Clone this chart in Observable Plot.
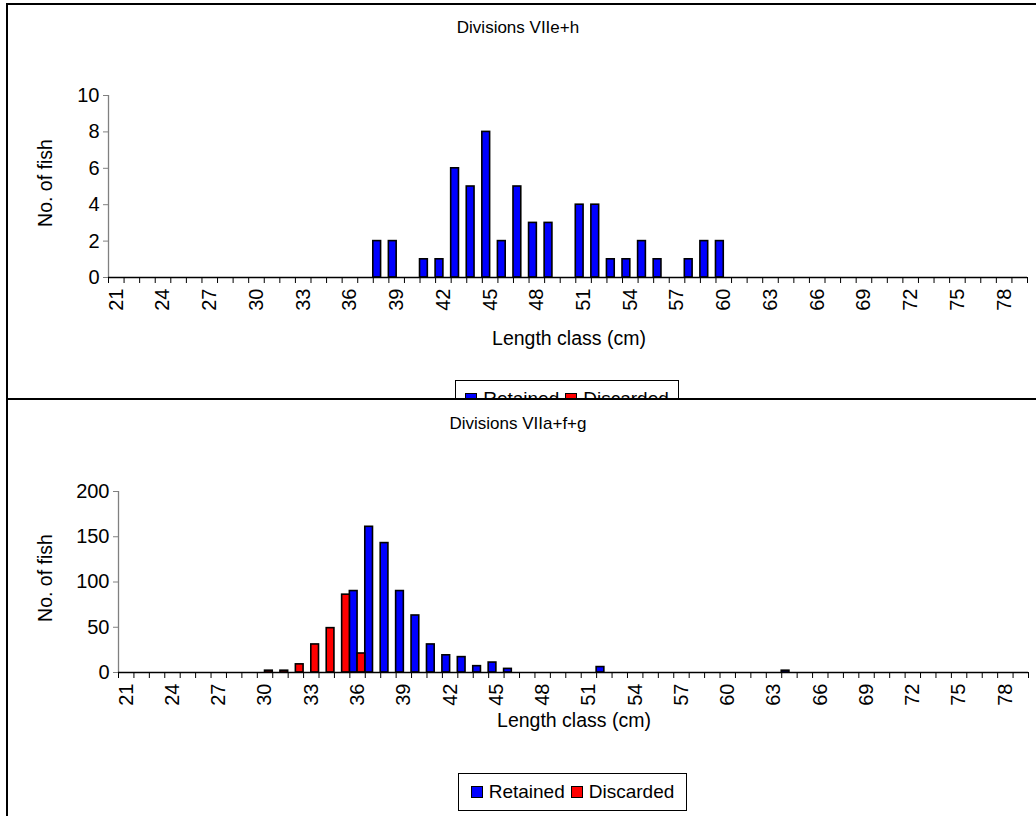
<!DOCTYPE html>
<html>
<head>
<meta charset="utf-8">
<script src="https://cdn.jsdelivr.net/npm/d3@7"></script>
<script src="https://cdn.jsdelivr.net/npm/@observablehq/plot@0.6"></script>
<style>
  html, body { margin: 0; padding: 0; background: #fff; }
  body { font-family: "Liberation Sans", Arial, sans-serif; color: #000; }
  #root { position: relative; width: 1036px; height: 816px; overflow: hidden; background: #fff; }
  .abs { position: absolute; }
  .frame { position: absolute; border-left: 2px solid #000; border-top: 2px solid #000; background: #fff; box-sizing: border-box; }
  .title { position: absolute; font-size: 17px; white-space: nowrap; transform: translate(-50%, -50%); }
  .xtitle { position: absolute; font-size: 19.5px; white-space: nowrap; transform: translate(-50%, -50%); }
  .ytitle { position: absolute; font-size: 19.5px; white-space: nowrap; transform: translate(-50%, -50%) rotate(-90deg); }
  .legend { position: absolute; border: 1px solid #000; box-sizing: border-box; background: #fff;
            display: flex; align-items: center; justify-content: center; font-size: 19px; gap: 0; }
  .legend .item { display: flex; align-items: center; margin: 0 3px; }
  .legend .sw { width: 10px; height: 10px; border: 1px solid #000; margin-right: 6px; }
</style>
</head>
<body>
<div id="root"></div>
<script>
// ---------- data ----------
const categories = [21,22,23,24,25,26,27,28,29,30,31,32,33,34,35,36,37,38,39,40,
                    41,42,43,44,45,46,47,48,49,50,51,52,53,54,55,56,57,58,59,60,
                    61,62,63,64,65,66,67,68,69,70,71,72,73,74,75,76,77,78,79];
const tickLabels = [21,24,27,30,33,36,39,42,45,48,51,54,57,60,63,66,69,72,75,78];
const seriesNames = ["Retained", "Discarded"];
const seriesColors = ["#0000FF", "#FF0000"];

// Divisions VIIe+h
const topTitle = "Divisions VIIe+h";
const topRetainedLength = [38,39,41,42,43,44,45,46,47,48,49,51,52,53,54,55,56,58,59,60];
const topRetainedCount  = [ 2, 2, 1, 1, 6, 5, 8, 2, 5, 3, 3, 4, 4, 1, 1, 2, 1, 1, 2, 2];
const topDiscardedLength = [];
const topDiscardedCount  = [];
const topYTicks = [0,2,4,6,8,10];

// Divisions VIIa+f+g
const bottomTitle = "Divisions VIIa+f+g";
const bottomRetainedLength = [36, 37, 38, 39, 40, 41, 42, 43, 44, 45, 46, 52, 64];
const bottomRetainedCount  = [90,161,143, 90, 63, 31, 19, 17,  7, 11,  4,  6,  2];
const bottomDiscardedLength = [30, 31, 32, 33, 34, 35, 36];
const bottomDiscardedCount  = [ 2,  2,  9, 31, 49, 86, 21];
const bottomYTicks = [0,50,100,150,200];

const yTitle = "No. of fish";
const xTitle = "Length class (cm)";

// ---------- helpers ----------
const zip = (lens, vals) => lens.map((len, i) => ({len, value: vals[i]}));
const root = document.getElementById("root");

function el(cls, styles, text) {
  const d = document.createElement("div");
  d.className = cls;
  Object.assign(d.style, styles);
  if (text != null) d.textContent = text;
  root.appendChild(d);
  return d;
}

function legend(left, top, width, height) {
  const lg = el("legend", {left: left + "px", top: top + "px", width: width + "px", height: height + "px"});
  seriesNames.forEach((name, i) => {
    const it = document.createElement("div");
    it.className = "item";
    const sw = document.createElement("div");
    sw.className = "sw";
    sw.style.background = seriesColors[i];
    it.appendChild(sw);
    const t = document.createElement("span");
    t.textContent = name;
    it.appendChild(t);
    lg.appendChild(it);
  });
}

function chart({retained, discarded, yTicks, height, marginLeft, marginRight, marginTop, marginBottom}) {
  const x0 = categories[0] - 0.5, x1 = categories[categories.length - 1] + 0.5;
  const boundaries = categories.map(c => c - 0.5).concat([x1]);
  return Plot.plot({
    width: 1036,
    height,
    marginLeft, marginRight, marginTop, marginBottom,
    style: {fontFamily: "'Liberation Sans', Arial, sans-serif", fontSize: "20px", background: "transparent", color: "#000", overflow: "visible"},
    x: {domain: [x0, x1]},
    y: {domain: [0, yTicks[yTicks.length - 1]]},
    marks: [
      Plot.rectY(retained, {x1: d => d.len - 0.5, x2: d => d.len, y: "value", fill: seriesColors[0], stroke: "#000", strokeWidth: 1.6}),
      Plot.rectY(discarded, {x1: d => d.len, x2: d => d.len + 0.5, y: "value", fill: seriesColors[1], stroke: "#000", strokeWidth: 1.6}),
      Plot.ruleX([x0], {stroke: "#808080", strokeWidth: 1.3}),
      Plot.ruleY([0], {stroke: "#000", strokeWidth: 1.3}),
      Plot.axisX({ticks: boundaries, tickSize: 6, tickFormat: () => "", stroke: "#000", label: null}),
      Plot.axisX({ticks: tickLabels, tickSize: 0, tickPadding: 11, tickRotate: -90, tickFormat: d => String(d), label: null}),
      Plot.axisY({ticks: yTicks, tickSize: 5, tickPadding: 4, stroke: "#808080", tickFormat: d => String(d), label: null})
    ]
  });
}

// ---------- top panel ----------
el("frame", {left: "6px", top: "3px", width: "1040px", height: "420px"});
el("title", {left: "518px", top: "28px"}, topTitle);
const svgTop = chart({
  retained: zip(topRetainedLength, topRetainedCount),
  discarded: zip(topDiscardedLength, topDiscardedCount),
  yTicks: topYTicks,
  height: 340, marginLeft: 108, marginRight: 9, marginTop: 95, marginBottom: 63
});
const wrapTop = el("abs", {left: "0px", top: "0px"});
wrapTop.appendChild(svgTop);
el("ytitle", {left: "45px", top: "183px"}, yTitle);
el("xtitle", {left: "569px", top: "338px"}, xTitle);
legend(455, 380, 224, 38);

// ---------- bottom panel ----------
el("frame", {left: "6px", top: "398px", width: "1040px", height: "430px"});
el("title", {left: "518px", top: "424px"}, bottomTitle);
const svgBottom = chart({
  retained: zip(bottomRetainedLength, bottomRetainedCount),
  discarded: zip(bottomDiscardedLength, bottomDiscardedCount),
  yTicks: bottomYTicks,
  height: 336, marginLeft: 118, marginRight: 8, marginTop: 92, marginBottom: 63
});
const wrapBottom = el("abs", {left: "0px", top: "399px"});
wrapBottom.appendChild(svgBottom);
el("ytitle", {left: "45px", top: "578px"}, yTitle);
el("xtitle", {left: "574px", top: "720px"}, xTitle);
legend(458, 773, 229, 38);
</script>
</body>
</html>
